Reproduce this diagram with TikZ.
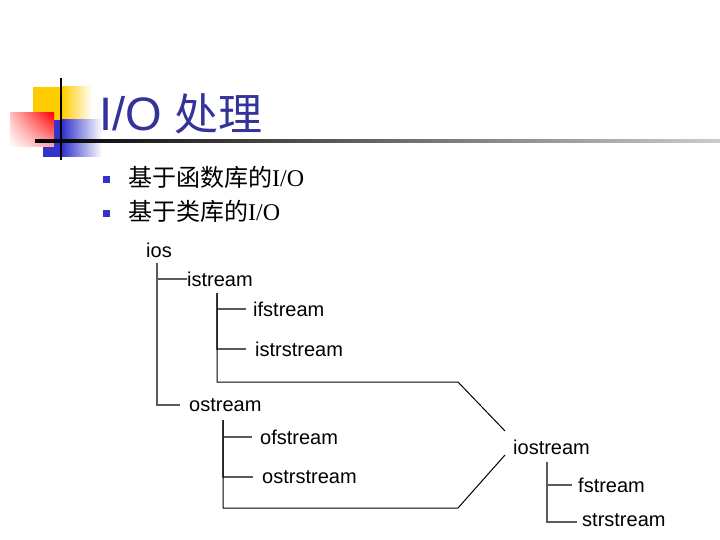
\documentclass[tikz,border=0pt]{standalone}
\usepackage{fontspec}
\setmainfont{Liberation Sans}
\newfontfamily\cjk{Noto Sans CJK SC}
\newfontfamily\ioserif{Liberation Serif}
\usetikzlibrary{positioning,shadings}
\definecolor{iotitle}{RGB}{51,51,153}
\definecolor{ioblue}{RGB}{51,51,204}
\definecolor{ioyellow}{RGB}{255,204,0}
\definecolor{iored}{RGB}{255,0,0}
\definecolor{ioline}{RGB}{90,90,90}
\tikzset{
  iocls/.style={anchor=west, inner sep=0pt, font=\fontsize{20}{24}\selectfont},
  iobullet/.style={fill=ioblue, minimum size=7pt, inner sep=0pt},
  ioitem/.style={anchor=west, inner sep=0pt, font=\cjk\fontsize{24}{28}\selectfont},
  iotree/.style={draw=ioline, line width=1.3pt},
  iotreeb/.style={draw=ioline, line width=1.8pt},
  iojoin/.style={draw=black, line width=1pt}
}

\begin{document}
\begin{tikzpicture}[x=1pt, y=-1pt]
  \fill[white] (0,0) rectangle (720,540);
  \useasboundingbox (0,0) rectangle (720,540);
  \fill[ioyellow] (33,87) rectangle (62,121);
  \shade[left color=ioyellow, right color=white] (62,87) rectangle (92,121);
  \fill[ioblue] (43,120) rectangle (62,157);
  \shade[left color=ioblue, right color=white] (62,120) rectangle (102,157);
  \shade[upper right=iored, upper left=iored!25, lower right=iored!35, lower left=white] (10,113) rectangle (54,147);
  \shade[left color=black, right color=black!20] (35,140) rectangle (720,142.2);
  \fill[black] (60,78) rectangle (62.2,160);
  \node[anchor=base west, inner sep=0pt, text=iotitle, font=\fontsize{47}{52}\selectfont] (title) at (99,131) {I/O {\cjk\fontsize{44}{52}\selectfont 处理}};
  \node[iobullet] (b1) at (106.5,179.5) {};
  \node[iobullet] (b2) at (106.5,213.5) {};
  \node[ioitem] (item1) at (128,177) {基于函数库的{\ioserif I/O}};
  \node[ioitem] (item2) at (128,211) {基于类库的{\ioserif I/O}};
  \node[iocls] (ios) at (146,250) {ios};
  \node[iocls] (istream) at (187,279) {istream};
  \node[iocls] (ifstream) at (253,309) {ifstream};
  \node[iocls] (istrstream) at (255,349) {istrstream};
  \node[iocls] (ostream) at (189,405) {ostream};
  \node[iocls] (ofstream) at (260,437) {ofstream};
  \node[iocls] (ostrstream) at (262,477) {ostrstream};
  \node[iocls] (iostream) at (513,447) {iostream};
  \node[iocls] (fstream) at (578,485) {fstream};
  \node[iocls] (strstream) at (582,520) {strstream};
  \coordinate (iosb) at (157,263);
  \coordinate (isb) at (217,293);
  \coordinate (osb) at (223,420);
  \coordinate (iob) at (547,462);
  \coordinate (iknee) at (458,382);
  \coordinate (oknee) at (458,508);
  \coordinate (ioup) at (505,431);
  \coordinate (iodn) at (505,455);
  \draw[iotree] (iosb) |- (istream.west);
  \draw[iotree] (iosb) |- ([xshift=-9pt]ostream.west);
  \draw[iotree] (isb) |- ([xshift=-7pt]ifstream.west);
  \draw[iotree] (isb) |- ([xshift=-9pt]istrstream.west);
  \draw[iojoin] (isb) |- (iknee) -- (ioup);
  \draw[iotree] (osb) |- ([xshift=-8pt]ofstream.west);
  \draw[iotree] (osb) |- ([xshift=-9pt]ostrstream.west);
  \draw[iojoin] (osb) |- (oknee) -- (iodn);
  \draw[iotreeb] (iob) |- ([xshift=-6pt]fstream.west);
  \draw[iotreeb] (iob) |- ([xshift=-5pt,yshift=-2pt]strstream.west);
\end{tikzpicture}
\end{document}
